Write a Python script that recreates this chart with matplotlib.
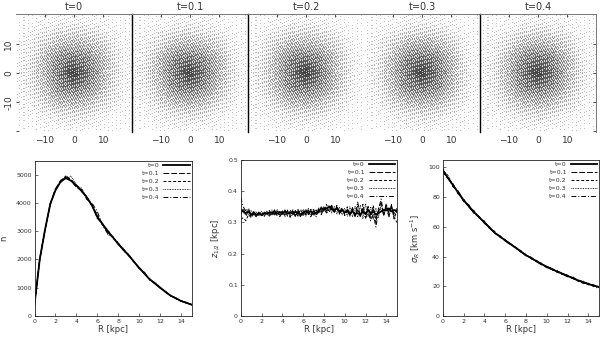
import matplotlib
matplotlib.use('Agg')
import matplotlib.pyplot as plt
import numpy as np

W, H = 600, 339

labels_t = ['t=0', 't=0.1', 't=0.2', 't=0.3', 't=0.4']
styles = ['-', (0, (6, 2)), (0, (3, 2)), (0, (1, 1)), (0, (5, 2, 1, 2))]
widths = [1.3, 0.7, 0.7, 0.6, 0.7]

# grey level of the particle clouds, read on a 5 kpc grid from +20 (top) to -20
dens_0 = [[.03, .05, .07, .08, .08, .08, .07, .05, .03],
          [.05, .08, .14, .20, .22, .20, .13, .08, .05],
          [.07, .14, .30, .40, .44, .40, .30, .14, .07],
          [.08, .20, .42, .62, .68, .62, .42, .20, .08],
          [.08, .22, .44, .68, .92, .70, .44, .21, .08],
          [.08, .20, .40, .62, .70, .60, .40, .19, .08],
          [.07, .13, .30, .42, .45, .40, .28, .13, .06],
          [.05, .08, .13, .19, .22, .19, .12, .07, .05],
          [.03, .05, .06, .07, .08, .07, .06, .05, .03]]
dens_1 = [[.03, .05, .06, .08, .08, .07, .06, .05, .03],
          [.05, .08, .13, .19, .21, .18, .12, .08, .05],
          [.06, .13, .28, .40, .43, .38, .28, .13, .06],
          [.08, .20, .44, .64, .68, .60, .42, .18, .07],
          [.08, .23, .46, .70, .90, .68, .44, .20, .08],
          [.08, .20, .41, .63, .70, .60, .40, .18, .07],
          [.06, .14, .30, .43, .46, .40, .27, .12, .06],
          [.05, .08, .14, .20, .23, .19, .12, .07, .05],
          [.03, .05, .07, .08, .08, .07, .06, .05, .03]]
dens_2 = [[.03, .05, .07, .08, .08, .07, .06, .04, .03],
          [.05, .09, .14, .21, .22, .19, .12, .07, .04],
          [.07, .15, .31, .42, .44, .38, .27, .12, .06],
          [.08, .21, .44, .64, .70, .60, .40, .18, .07],
          [.08, .23, .46, .70, .94, .68, .42, .19, .07],
          [.08, .21, .43, .64, .70, .60, .40, .18, .07],
          [.07, .15, .31, .43, .45, .39, .27, .12, .06],
          [.05, .09, .14, .20, .22, .19, .12, .07, .04],
          [.03, .05, .07, .08, .08, .07, .06, .04, .03]]
dens_3 = [[.03, .05, .06, .08, .08, .08, .06, .05, .03],
          [.04, .08, .13, .20, .22, .20, .13, .08, .05],
          [.06, .13, .30, .42, .46, .42, .30, .13, .06],
          [.07, .19, .42, .64, .70, .64, .43, .19, .07],
          [.07, .21, .45, .70, .92, .70, .45, .21, .07],
          [.07, .19, .42, .63, .70, .63, .42, .19, .07],
          [.06, .13, .29, .42, .46, .42, .30, .13, .06],
          [.04, .08, .13, .20, .23, .20, .13, .08, .04],
          [.03, .05, .06, .08, .08, .08, .06, .05, .03]]
dens_4 = [[.03, .05, .06, .08, .08, .08, .06, .05, .03],
          [.05, .08, .12, .19, .22, .19, .13, .08, .05],
          [.06, .12, .28, .40, .45, .40, .29, .13, .06],
          [.07, .18, .41, .62, .70, .63, .42, .18, .07],
          [.07, .20, .44, .70, .92, .70, .44, .20, .07],
          [.07, .19, .42, .63, .70, .62, .41, .18, .07],
          [.06, .13, .29, .42, .46, .40, .28, .12, .06],
          [.05, .08, .13, .19, .23, .19, .12, .08, .05],
          [.03, .05, .06, .08, .08, .07, .06, .05, .03]]
clouds = [dens_0, dens_1, dens_2, dens_3, dens_4]
cloud_grid = [-20, -15, -10, -5, 0, 5, 10, 15, 20]

# bottom left: surface counts against R
r_half = [0, .5, 1, 1.5, 2, 2.5, 3, 3.5, 4, 4.5, 5, 5.5, 6, 6.5, 7, 7.5, 8, 8.5, 9, 9.5,
          10, 10.5, 11, 11.5, 12, 12.5, 13, 13.5, 14, 14.5, 15]
n_0 = [400, 2000, 3040, 3950, 4450, 4750, 4880, 4780, 4620, 4420, 4200, 3900, 3500, 3250, 3000, 2780, 2550, 2340,
       2150, 1920, 1700, 1500, 1300, 1150, 1000, 860, 720, 630, 530, 470, 400]
n_1 = [420, 1980, 3020, 3980, 4500, 4800, 4920, 4830, 4600, 4450, 4150, 3950, 3450, 3270, 2950, 2800, 2530, 2360,
       2130, 1940, 1690, 1520, 1280, 1170, 990, 870, 710, 640, 520, 480, 390]
n_2 = [410, 2010, 3050, 3930, 4480, 4730, 4950, 4800, 4580, 4400, 4230, 3880, 3600, 3220, 3050, 2750, 2580, 2320,
       2170, 1900, 1720, 1480, 1320, 1130, 1010, 850, 730, 620, 540, 460, 410]
n_3 = [390, 1990, 3030, 3970, 4420, 4780, 4850, 4950, 4640, 4520, 4180, 3930, 3550, 3280, 2880, 2790, 2520, 2400,
       2120, 1930, 1710, 1540, 1290, 1190, 980, 880, 700, 650, 510, 490, 380]
n_4 = [400, 2020, 3060, 3960, 4460, 4720, 4980, 4760, 4560, 4480, 4120, 3990, 3700, 3200, 2920, 2770, 2600, 2300,
       2180, 1910, 1680, 1560, 1270, 1200, 1020, 840, 740, 610, 550, 450, 420]

# bottom middle: half thickness against R
r_quarter = [i * 0.25 for i in range(61)]
z_0 = [.340, .335, .330, .335, .325, .330, .325, .328, .325, .330, .328, .332, .330, .335, .328, .333, .330, .335,
       .328, .332, .328, .334, .328, .326, .330, .335, .330, .336, .328, .332, .335, .345, .340, .345, .350, .342,
       .340, .345, .335, .340, .332, .338, .330, .335, .328, .330, .325, .335, .328, .340, .330, .335, .325, .330,
       .335, .340, .338, .345, .335, .340, .335]
z_1 = [.325, .345, .320, .340, .318, .332, .320, .333, .322, .328, .332, .326, .336, .326, .338, .325, .336, .325,
       .335, .326, .337, .322, .334, .320, .338, .326, .340, .324, .336, .328, .342, .335, .352, .338, .345, .355,
       .332, .350, .330, .345, .325, .342, .322, .348, .320, .340, .318, .345, .325, .352, .320, .345, .312, .338,
       .345, .328, .355, .330, .350, .328, .345]
z_2 = [.310, .315, .305, .325, .315, .328, .318, .335, .320, .335, .322, .338, .324, .340, .322, .338, .322, .340,
       .320, .340, .324, .338, .320, .342, .322, .344, .325, .342, .320, .340, .330, .350, .335, .358, .332, .352,
       .330, .355, .328, .348, .322, .350, .325, .342, .318, .352, .322, .358, .315, .348, .310, .355, .300, .345,
       .365, .320, .350, .318, .358, .312, .340]
z_3 = [.345, .330, .342, .325, .338, .322, .335, .320, .336, .322, .338, .324, .340, .322, .342, .320, .338, .318,
       .340, .320, .342, .318, .340, .316, .342, .320, .345, .318, .340, .322, .348, .328, .350, .332, .355, .330,
       .352, .326, .348, .324, .345, .320, .350, .318, .352, .316, .355, .312, .360, .318, .350, .310, .345, .315,
       .360, .322, .352, .316, .348, .310, .335]
z_4 = [.380, .350, .335, .345, .322, .335, .318, .330, .325, .318, .335, .320, .330, .322, .335, .318, .330, .322,
       .338, .316, .332, .320, .342, .318, .330, .322, .335, .315, .345, .318, .340, .325, .345, .330, .340, .350,
       .335, .345, .325, .340, .328, .335, .320, .345, .318, .365, .322, .340, .312, .335, .305, .325, .285, .340,
       .375, .325, .360, .330, .355, .320, .300]

# bottom right: velocity dispersion against R
s_0 = [98, 93, 88, 83, 78, 74, 70, 66.5, 63, 59.5, 56, 53.5, 51, 48.5, 46, 43.5, 41, 39, 37, 35, 33, 31.5, 30, 28.5,
       27, 25.5, 24, 22.8, 21.5, 20.5, 19.5]
s_1 = [96, 94, 87, 84, 77, 75, 69, 67, 62.5, 60, 55.5, 54, 50.5, 49, 45.5, 44, 40.5, 39.5, 36.5, 35.5, 32.5, 32, 29.5,
       29, 26.5, 26, 23.5, 23.2, 21, 21, 19]
s_2 = [100, 92, 89, 82, 79, 73, 71, 66, 64, 59, 57, 53, 51.5, 48, 46.5, 43, 41.5, 38.5, 37.5, 34.5, 33.5, 31, 30.5, 28,
       27.5, 25, 24.5, 22.5, 22, 20, 20]
s_3 = [97, 95, 88, 82, 78.5, 74.5, 70, 66, 63.5, 60, 56.5, 53, 51, 49, 46, 44, 41, 38.5, 37, 35.5, 33, 31, 30.5, 28.5,
       27.5, 25, 24, 23.5, 21.5, 21, 19.5]
s_4 = [99, 93, 87, 84, 78, 73.5, 69.5, 67, 62.5, 59, 56, 54, 50.5, 48, 46.5, 43.5, 40.5, 39.5, 36.5, 34.5, 33.5, 32, 29.5,
       28, 26.5, 26.5, 23.5, 22, 22, 20, 18.5]

text_col = '#333333'
bayer = np.array([[0, 32, 8, 40, 2, 34, 10, 42],
                  [48, 16, 56, 24, 50, 18, 58, 26],
                  [12, 44, 4, 36, 14, 46, 6, 38],
                  [60, 28, 52, 20, 62, 30, 54, 22],
                  [3, 35, 11, 43, 1, 33, 9, 41],
                  [51, 19, 59, 27, 49, 17, 57, 25],
                  [15, 47, 7, 39, 13, 45, 5, 37],
                  [63, 31, 55, 23, 61, 29, 53, 21]]) / 64 + 1 / 128


def axes_px(fig, left, top, right, bottom):
    return fig.add_axes([left / W, 1 - bottom / H, (right - left) / W, (bottom - top) / H])


def stipple(grid, nx, ny):
    """Turn the read grey grid into soft dots, one per pixel, with an ordered dither"""
    xs = np.linspace(-20, 20, nx)
    ys = np.linspace(20, -20, ny)
    grid = np.array(grid)[::-1]
    rows = np.array([np.interp(xs, cloud_grid, row) for row in grid])
    fine = np.array([np.interp(ys, cloud_grid, col) for col in rows.T]).T
    mask = fine > np.resize(bayer, (ny, nx))
    # a light wash of the grid itself, with mid grey dots on top
    return np.where(mask, 0.3 + 0.55 * fine, 0.35 * fine)


def plot_profile(ax, xs, series, ylim, yticks, yfmt, ylabel, ylabel_x):
    for idx, ys in enumerate(series):
        ax.plot(xs, ys, color='black', ls=styles[idx], lw=0.5 if idx else 0.8, label=labels_t[idx])
    ax.set_xlim(0, 15)
    ax.set_ylim(*ylim)
    ax.set_xticks(range(0, 15, 2))
    ax.set_yticks(yticks)
    ax.set_yticklabels([yfmt.format(v) for v in yticks])
    ax.tick_params(direction='in', length=2, width=0.5, labelsize=4.5, colors=text_col, pad=2)
    for side in ['top', 'bottom', 'left', 'right']:
        ax.spines[side].set_linewidth(0.6)
        ax.spines[side].set_color('#222222')
    ax.set_xlabel('R [kpc]', fontsize=6, color=text_col, labelpad=1)
    ax.set_ylabel(ylabel, fontsize=6, color=text_col)
    ax.yaxis.set_label_coords(ylabel_x, 0.5)
    handles, labels = ax.get_legend_handles_labels()
    for h, w in zip(handles, widths):
        h.set_linewidth(w)
    leg = ax.legend(handles, labels, loc='upper right', frameon=False, markerfirst=False, fontsize=4.5,
                    labelspacing=0.42, handlelength=4.2, handletextpad=0.6, borderaxespad=0.2, borderpad=0.1)
    for t in leg.get_texts():
        t.set_color(text_col)


fig = plt.figure(figsize=(W / 100, H / 100), dpi=100)
plt.rcParams['font.family'] = 'DejaVu Sans'

# particle clouds
edges = [16, 132, 248, 364, 480, 596]
for i, grid in enumerate(clouds):
    ax = axes_px(fig, edges[i], 14.5, edges[i + 1], 132)
    ax.imshow(stipple(grid, 116, 118), cmap='Greys', vmin=0, vmax=1, extent=(-20, 20, -20, 20),
              interpolation='nearest', aspect='auto')
    ax.set_xlim(-19.8, 19.8)
    ax.set_ylim(-20.2, 20.2)
    ax.set_title(labels_t[i], fontsize=7, color=text_col, pad=3)
    ax.set_xticks([-10, 0, 10])
    ax.tick_params(axis='x', direction='in', length=2, width=0.6, bottom=False, top=True, labelsize=6.5,
                   colors=text_col, pad=3)
    ax.set_yticks([-20, -10, 0, 10])
    ax.set_yticklabels(['', '-10', '0', '10'], rotation=90, va='center')
    ax.tick_params(axis='y', direction='in', length=2, width=0.6, left=(i == 0), right=(i == 4),
                   labelleft=(i == 0), labelsize=6.5, colors=text_col, pad=2)
    ax.spines['bottom'].set_visible(False)
    ax.spines['top'].set_color('#777777')
    ax.spines['top'].set_linewidth(0.7)
    ax.spines['left'].set_visible(i in (1, 2, 4))
    ax.spines['left'].set_color('black')
    ax.spines['left'].set_linewidth(1.0)
    ax.spines['right'].set_visible(i == 4)
    ax.spines['right'].set_color('#777777')
    ax.spines['right'].set_linewidth(0.7)

ax_n = axes_px(fig, 34.5, 160.5, 191.5, 316)
plot_profile(ax_n, r_half, [n_0, n_1, n_2, n_3, n_4], (0, 5500), [0, 1000, 2000, 3000, 4000, 5000], '{}', 'n', -0.17)

ax_z = axes_px(fig, 240.7, 160, 396.7, 316)
plot_profile(ax_z, r_quarter, [z_0, z_1, z_2, z_3, z_4], (0, 0.5), [0, .1, .2, .3, .4, .5], '{:g}',
             r'$z_{1/2}$ [kpc]', -0.12)

ax_s = axes_px(fig, 442.7, 160, 598.7, 316)
plot_profile(ax_s, r_half, [s_0, s_1, s_2, s_3, s_4], (0, 105), [0, 20, 40, 60, 80, 100], '{}',
             r'$\sigma_R$ [km s$^{-1}$]', -0.13)

fig.savefig('out.png', dpi=100)
